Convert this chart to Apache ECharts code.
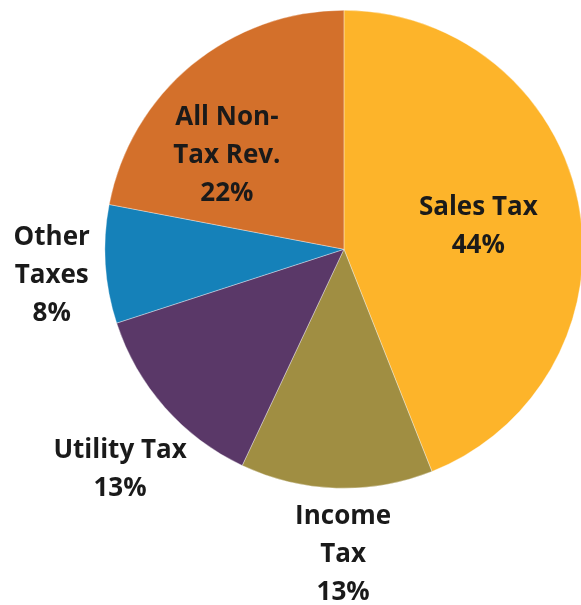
<!DOCTYPE html>
<html>
<head>
<meta charset="utf-8">
<script src="https://cdn.jsdelivr.net/npm/echarts@6/dist/echarts.min.js"></script>
<style>
html,body{margin:0;padding:0;background:#fff;}
#chart{width:581px;height:605px;}
</style>
</head>
<body>
<div id="chart"></div>
<script>
// Data
var categories = ['Sales Tax', 'Income\nTax', 'Utility Tax', 'Other\nTaxes', 'All Non-\nTax Rev.'];
var values = [44, 13, 13, 8, 22];

// Styles
var colors = ['#FDB42A', '#A08E42', '#5A3868', '#1581B9', '#D3702B'];
var labelShift = [[14, 0], [3, 183], [-132, 139], [-170, 19], [-39, 1]];

var chart = echarts.init(document.getElementById('chart'));
chart.setOption({
  animation: false,
  series: [{
    type: 'pie',
    center: ['59.2%', '41.2%'],
    radius: 239,
    startAngle: 90,
    clockwise: true,
    avoidLabelOverlap: false,
    itemStyle: { borderColor: 'rgba(255,255,255,0.35)', borderWidth: 1 },
    label: {
      show: true,
      position: 'inside',
      formatter: '{b}\n{c}%',
      fontFamily: 'Open Sans',
      fontWeight: 'bold',
      fontSize: 26,
      lineHeight: 38,
      color: '#1a1a1a',
      align: 'center'
    },
    labelLine: { show: false },
    labelLayout: function (p) {
      var s = labelShift[p.dataIndex];
      return { dx: s[0], dy: s[1] };
    },
    emphasis: { disabled: true },
    data: categories.map(function (c, i) {
      return { name: c, value: values[i], itemStyle: { color: colors[i] } };
    })
  }]
});
</script>
</body>
</html>
